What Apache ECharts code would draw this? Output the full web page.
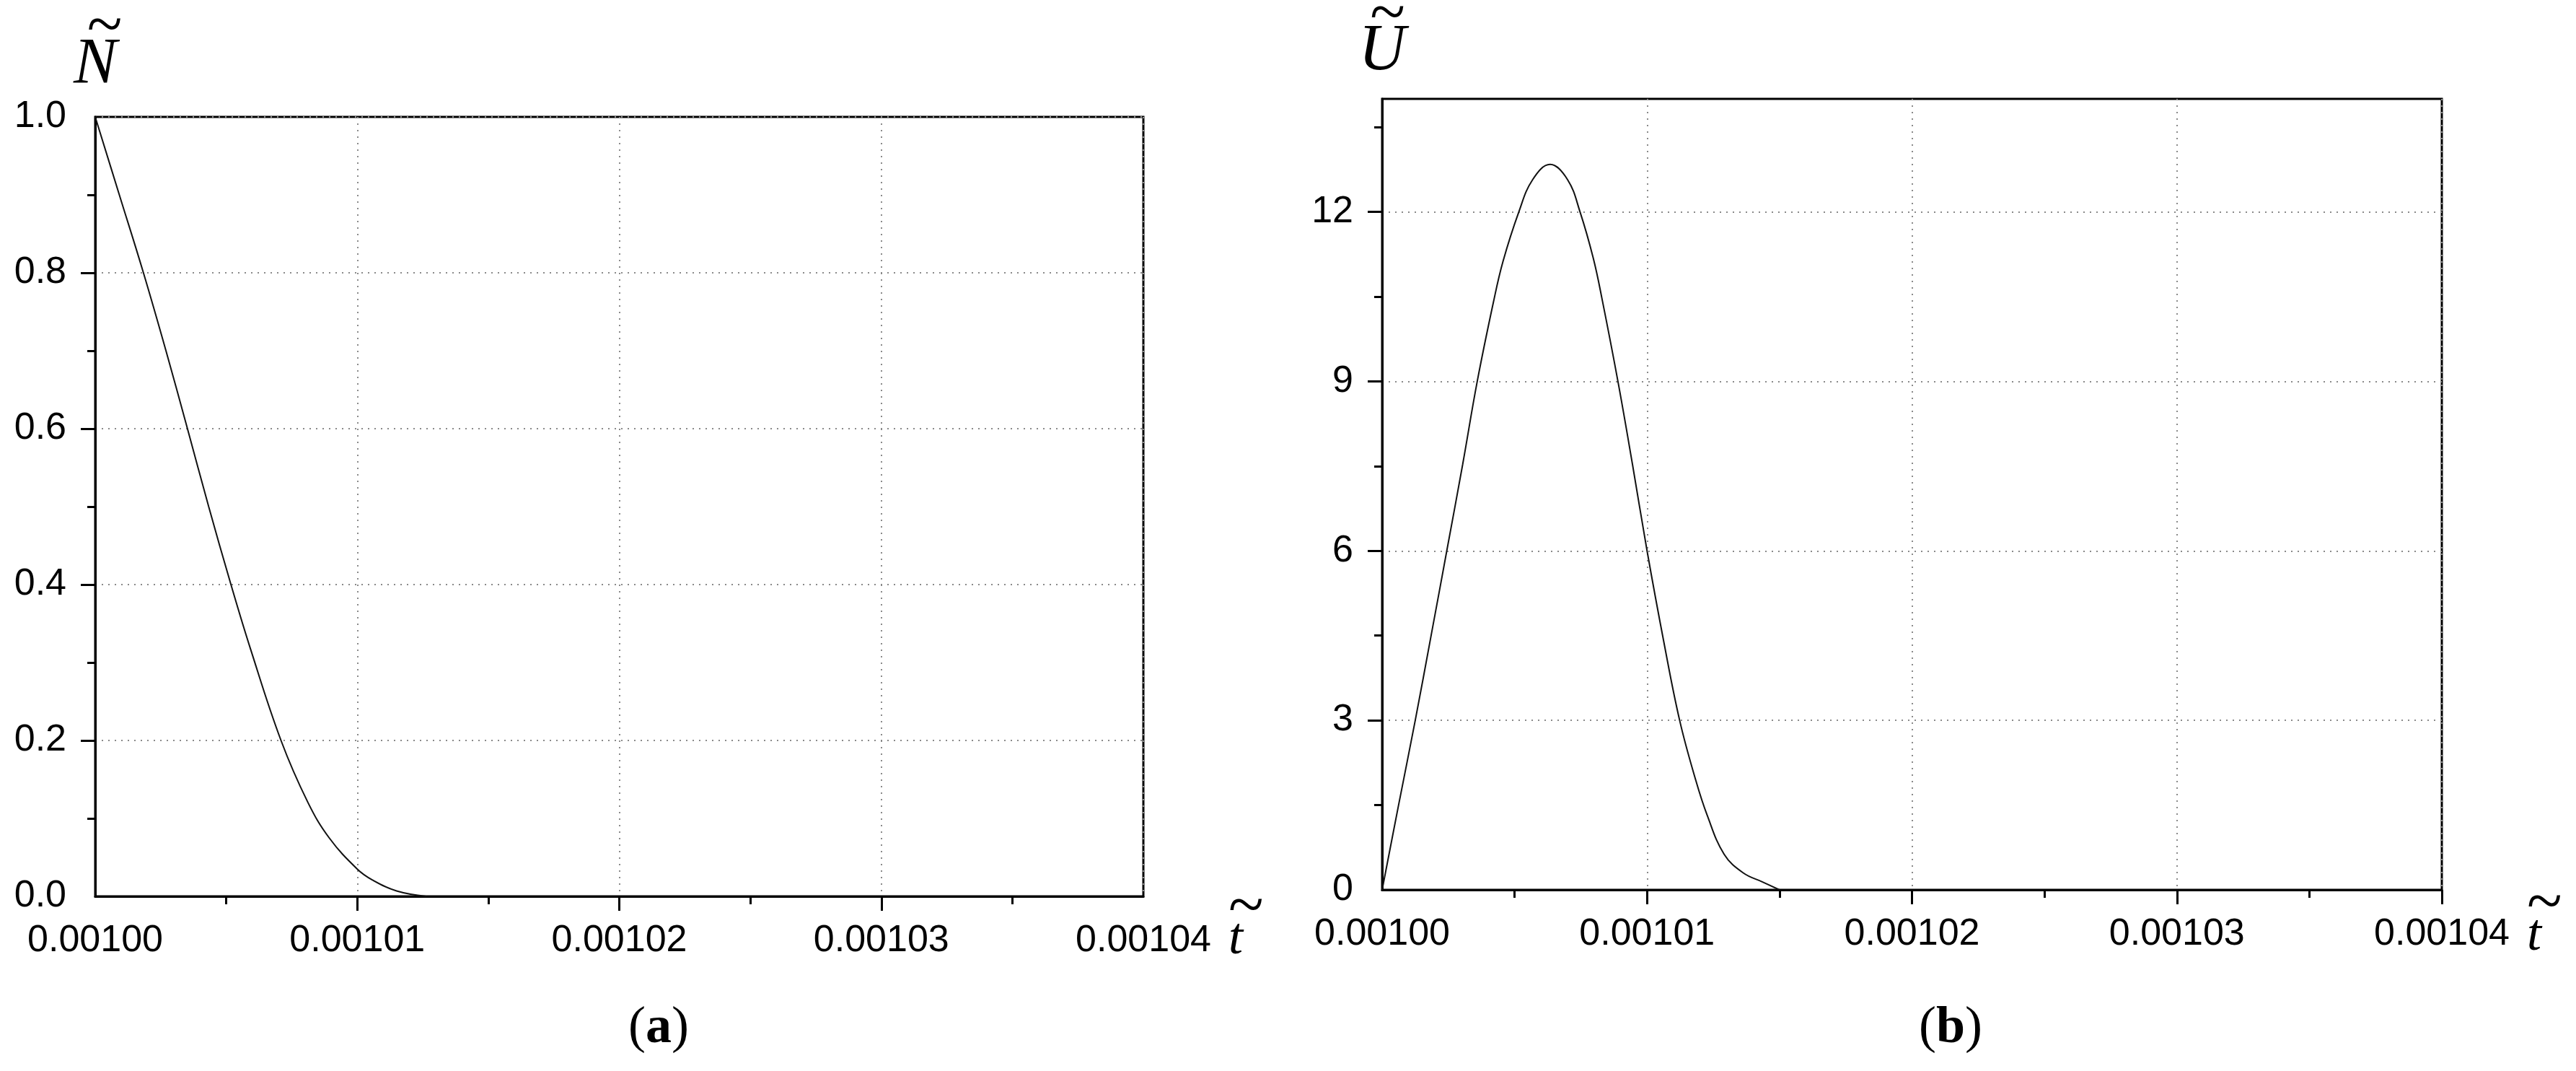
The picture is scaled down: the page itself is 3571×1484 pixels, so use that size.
<!DOCTYPE html>
<html>
<head>
<meta charset="utf-8">
<title>N and U vs t</title>
<script src="https://cdn.jsdelivr.net/npm/echarts@6/dist/echarts.min.js"></script>
<style>
  html, body { margin: 0; padding: 0; background: #fff; }
  #chart { width: 3571px; height: 1484px; }
</style>
</head>
<body>
<div id="chart"></div>
<script>
// tick values
const tTicks = [0.00100, 0.00101, 0.00102, 0.00103, 0.00104];
const tMinorTicks = [0.001005, 0.001015, 0.001025, 0.001035];
const nTicks = [0.2, 0.4, 0.6, 0.8];
const nMinorTicks = [0.1, 0.3, 0.5, 0.7, 0.9];
const uTicks = [0, 3, 6, 9, 12];
const uMinorTicks = [1.5, 4.5, 7.5, 10.5, 13.5];

// (a) N(t)
const nTime = [0.00100000, 0.00100092, 0.00100184, 0.00100270, 0.00100352, 0.00100433,
  0.00100518, 0.00100593, 0.00100709, 0.00100811, 0.00100893, 0.00101000,
  0.00101058, 0.00101150, 0.00101264];
const nValue = [1.0, 0.9, 0.8, 0.7, 0.6, 0.5, 0.4, 0.317, 0.2, 0.121, 0.075, 0.035,
  0.021, 0.007, 0.0];

// (b) U(t)
const uTime = [0.00100000, 0.00100062, 0.00100125, 0.00100186, 0.00100244, 0.00100304,
  0.00100359, 0.00100420, 0.00100456, 0.00100516, 0.00100568, 0.00100634,
  0.00100700, 0.00100747, 0.00100797, 0.00100830, 0.00100890, 0.00100945,
  0.00101000, 0.00101062, 0.00101123, 0.00101182, 0.00101227, 0.00101291,
  0.00101363, 0.00101436, 0.00101500];
const uValue = [0, 1.5, 3.0, 4.53, 6.0, 7.53, 9.0, 10.40, 11.12, 12.0, 12.57, 12.84,
  12.57, 12.0, 11.18, 10.46, 9.0, 7.53, 6.0, 4.42, 3.0, 1.97, 1.32, 0.63,
  0.30, 0.14, 0.0];

const sans = "'Liberation Sans', Arial, sans-serif";
const serif = "'Liberation Serif', 'Times New Roman', serif";
const black = { color: "#000", width: 3 };
const dotted = { color: "#8a8a8a", width: 2, type: [2, 7] };

const zip = (xs, ys) => xs.map((x, i) => [x, ys[i]]);

// tilde over an italic letter, as two lines of rich text
const tildeRich = function (size, shift, tildeLh) {
  return {
    w: { fontFamily: serif, fontSize: 90, lineHeight: tildeLh, padding: [0, 0, 0, shift], color: "#000" },
    v: { fontFamily: serif, fontStyle: "italic", fontSize: size, lineHeight: size, color: "#000" },
  };
};

// axis that only draws outward ticks at the given values
const tickAxis = function (gridIndex, position, min, max, values, length) {
  return {
    gridIndex: gridIndex,
    type: "value",
    position: position,
    min: min,
    max: max,
    axisLine: { show: false },
    axisTick: { show: true, customValues: values, length: length, lineStyle: black },
    axisLabel: { show: false },
    splitLine: { show: false },
  };
};

const tAxis = function (gridIndex, padTop) {
  return {
    gridIndex: gridIndex,
    type: "value",
    position: "bottom",
    min: tTicks[0],
    max: tTicks[tTicks.length - 1],
    interval: 0.00001,
    axisLine: { show: true, lineStyle: black },
    axisTick: { show: false },
    axisLabel: {
      formatter: (v) => v.toFixed(5),
      fontFamily: sans, fontSize: 52, color: "#000", margin: 36,
    },
    splitLine: { show: true, lineStyle: dotted },
    name: "{w|~}\n{v|t}",
    nameLocation: "end",
    nameGap: 118,
    nameTextStyle: { align: "left", verticalAlign: "top", padding: [padTop, 0, 0, 0], rich: tildeRich(72, 0, 14) },
  };
};

const tMin = tTicks[0];
const tMax = tTicks[tTicks.length - 1];

// panel label, bold letter in plain parentheses
const panelTitle = function (letter, left) {
  return {
    text: "({b|" + letter + "})",
    left: left,
    top: 1384,
    textStyle: { fontFamily: serif, fontSize: 72, fontWeight: "normal", color: "#000",
      rich: { b: { fontFamily: serif, fontSize: 72, fontWeight: "bold", color: "#000" } } },
  };
};

const myChart = echarts.init(document.getElementById("chart"));

myChart.setOption({
  animation: false,
  backgroundColor: "#fff",
  title: [panelTitle("a", 866), panelTitle("b", 2655)],
  grid: [
    { left: 132, top: 162, width: 1453, height: 1080, outerBoundsMode: "none",
      show: true, borderColor: "#000", borderWidth: 3 },
    { left: 1916, top: 137, width: 1469, height: 1096, outerBoundsMode: "none",
      show: true, borderColor: "#000", borderWidth: 3 },
  ],
  xAxis: [
    tAxis(0, 10),
    tAxis(1, 14),
    tickAxis(0, "bottom", tMin, tMax, tTicks.slice(1, 4), 20),
    tickAxis(0, "bottom", tMin, tMax, tMinorTicks, 11),
    tickAxis(1, "bottom", tMin, tMax, tTicks.slice(1), 20),
    tickAxis(1, "bottom", tMin, tMax, tMinorTicks, 11),
  ],
  yAxis: [
    {
      gridIndex: 0,
      type: "value",
      position: "left",
      min: 0,
      max: 1,
      interval: 0.2,
      axisLine: { show: true, lineStyle: black },
      axisTick: { show: false },
      axisLabel: { formatter: (v) => v.toFixed(1), fontFamily: sans, fontSize: 52, color: "#000", margin: 40 },
      splitLine: { show: true, lineStyle: dotted },
      name: "{w|~}\n{v|N}",
      nameLocation: "end",
      nameGap: 21,
      nameTextStyle: { rich: tildeRich(90, 26, 14) },
    },
    {
      gridIndex: 1,
      type: "value",
      position: "left",
      min: 0,
      max: 14,
      interval: 3,
      axisLine: { show: true, lineStyle: black },
      axisTick: { show: false },
      axisLabel: { customValues: uTicks, fontFamily: sans, fontSize: 52, color: "#000", margin: 40 },
      splitLine: { show: true, showMaxLine: false, lineStyle: dotted },
      name: "{w|~}\n{v|U}",
      nameLocation: "end",
      nameGap: 20,
      nameTextStyle: { rich: tildeRich(90, 15, 10) },
    },
    tickAxis(0, "left", 0, 1, nTicks, 20),
    tickAxis(0, "left", 0, 1, nMinorTicks, 11),
    tickAxis(1, "left", 0, 14, uTicks.slice(1), 20),
    tickAxis(1, "left", 0, 14, uMinorTicks, 11),
  ],
  series: [
    {
      type: "line",
      xAxisIndex: 0,
      yAxisIndex: 0,
      data: zip(nTime, nValue),
      smooth: 0.4,
      showSymbol: false,
      lineStyle: { color: "#111", width: 2 },
    },
    {
      type: "line",
      xAxisIndex: 1,
      yAxisIndex: 1,
      data: zip(uTime, uValue),
      smooth: 0.4,
      showSymbol: false,
      lineStyle: { color: "#111", width: 2 },
    },
  ],
});
</script>
</body>
</html>
